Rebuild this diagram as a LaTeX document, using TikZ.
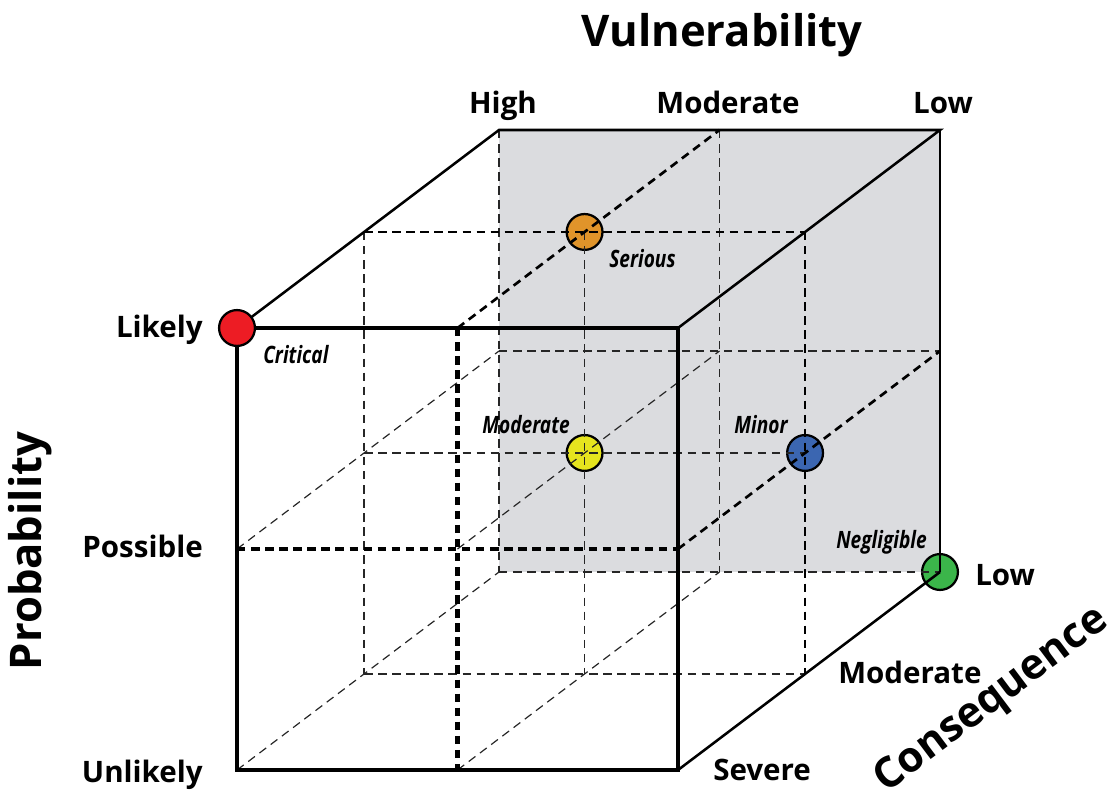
\documentclass[tikz,border=0pt]{standalone}
\usepackage{fontspec}
\setmainfont{Open Sans}
\newfontfamily\condit{Open Sans}[FakeStretch=0.8]
\definecolor{backgray}{RGB}{219,220,223}
\definecolor{cred}{RGB}{237,28,36}
\definecolor{corange}{RGB}{224,148,42}
\definecolor{cyellow}{RGB}{230,228,30}
\definecolor{cblue}{RGB}{59,102,177}
\definecolor{cgreen}{RGB}{59,181,74}
\tikzset{
  thindash/.style={draw=black!85, line width=0.85pt, dash pattern=on 6pt off 4pt},
  meddash/.style={draw=black, line width=1.9pt, dash pattern=on 6pt off 4pt},
  thickdash/.style={draw=black, line width=3.1pt, dash pattern=on 6pt off 4pt},
  frontedge/.style={draw=black, line width=2.8pt, line join=miter},
  backedge/.style={draw=black, line width=1.8pt},
  dot/.style={circle, draw=black, line width=1.6pt, minimum size=25.5pt, inner sep=0pt},
  axistitle/.style={font=\bfseries\fontsize{31}{31}\selectfont, inner sep=0pt},
  axlabel/.style={font=\bfseries\fontsize{21}{21}\selectfont, inner sep=0pt, anchor=base},
  risk/.style={font=\condit\bfseries\itshape\fontsize{17}{17}\selectfont, inner sep=0pt, anchor=base}
}
\begin{document}
\begin{tikzpicture}[x=0.025cm, y=-0.025cm]
\useasboundingbox (0,0) rectangle (1117,796);
% grid points p<i><j><k>: i horizontal, j vertical, k depth
\foreach \i/\xx in {0/237,1/457.5,2/678}{
  \foreach \j/\yy in {0/328,1/549,2/770}{
    \foreach \k/\ff in {0/0,1/0.485,2/1}{
      \coordinate (p\i\j\k) at ({\xx+\ff*262},{\yy-\ff*198});
    }
  }
}
% back face shading
\fill[backgray] (p002) rectangle (p222);
% risk dots (lines pass over them)
\node[dot, fill=corange] (serious) at (p101) {};
\node[dot, fill=cyellow] (moderate) at (p111) {};
\node[dot, fill=cblue] (minor) at (p211) {};
\node[dot, fill=cgreen] (negligible) at (p222) {};
% thin dashed grid
\draw[thindash] (p011) -- (p211);
\draw[thindash] (p012) -- (p212);
\draw[thindash] (p021) -- (p221);
\draw[thindash] (p022) -- (p222);
\draw[thindash] (p001) -- (p021);
\draw[thindash] (p101) -- (p121);
\draw[thindash] (p002) -- (p022);
\draw[thindash] (p102) -- (p122);
\draw[thindash] (p010) -- (p012);
\draw[thindash] (p110) -- (p112);
\draw[thindash] (p020) -- (p022);
\draw[thindash] (p120) -- (p122);
% medium dashed
\draw[meddash] (p001) -- (p201);
\draw[meddash] (p201) -- (p221);
\draw[meddash] (p100) -- (p102);
\draw[meddash] (p210) -- (p212);
% thick dashed on front face
\draw[thickdash] (p010) -- (p210);
\draw[thickdash] (p100) -- (p120);
% solid edges
\draw[backedge] (p000) -- (p002) -- (p202) -- (p200);
\draw[backedge] (p220) -- (p222);
\draw[draw=black, line width=1.3pt] (p202) -- (p222);
\draw[frontedge] (p000) -- (p200) -- (p220) -- (p020) -- cycle;
% red dot on top
\node[dot, fill=cred] (critical) at (p000) {};
% axis titles
\node[axistitle] (tvul) at (722,35) {Vulnerability};
\node[axistitle, rotate=90] (tprob) at (30,551) {Probability};
\node[axistitle, rotate=37, font=\bfseries\fontsize{30}{30}\selectfont] (tcons) at (992,701) {Consequence};
% vulnerability labels
\node[axlabel] (vhigh) at (503,113) {High};
\node[axlabel] (vmod) at (728,113) {Moderate};
\node[axlabel] (vlow) at (943,113) {Low};
% probability labels
\node[axlabel, anchor=base east] (plik) at (203,337) {Likely};
\node[axlabel, anchor=base east] (ppos) at (203,557) {Possible};
\node[axlabel, anchor=base east] (punl) at (203,782) {Unlikely};
% consequence labels
\node[axlabel, anchor=base west] (clow) at (975,585) {Low};
\node[axlabel, anchor=base west] (cmod) at (838,683) {Moderate};
\node[axlabel, anchor=base west] (csev) at (713,780) {Severe};
% risk labels
\node[risk, anchor=base west] (lcrit) at (263,363) {Critical};
\node[risk, anchor=base west] (lser) at (609,267) {Serious};
\node[risk, anchor=base west] (lmod) at (482,433) {Moderate};
\node[risk, anchor=base west] (lmin) at (734,433) {Minor};
\node[risk, anchor=base west] (lneg) at (836,548) {Negligible};
\end{tikzpicture}
\end{document}
